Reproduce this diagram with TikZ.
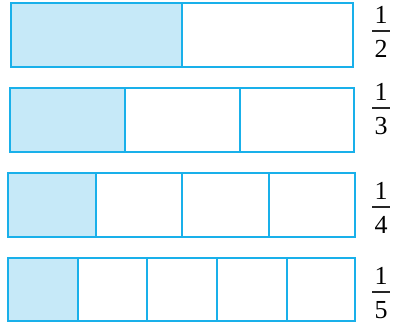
\documentclass[tikz,border=0pt]{standalone}
\usepackage{fontspec}
\setmainfont{Liberation Serif}
\newcommand\bigdigit[1]{{\fontsize{26}{30}\selectfont #1}}
\definecolor{barline}{HTML}{19B0EA}
\definecolor{barfill}{HTML}{C6E9F8}
\tikzset{
  bar/.style={draw=barline, line width=2.2pt},
  shade/.style={fill=barfill},
  fracdigit/.style={inner sep=0pt, anchor=base},
  fracrule/.style={line width=1.8pt, draw=black!85}
}
\begin{document}
\begin{tikzpicture}[x=1pt,y=-1pt]
\useasboundingbox (0,0) rectangle (394,331);
% bar 1/2
\fill[shade] (11,3) rectangle (182,67);
\draw[bar] (11,3) rectangle (353,67);
\draw[bar] (182,3) -- (182,67);
% bar 1/3
\fill[shade] (10,88) rectangle (125,152);
\draw[bar] (10,88) rectangle (354,152);
\foreach \x in {125,240} \draw[bar] (\x,88) -- (\x,152);
% bar 1/4
\fill[shade] (8,173) rectangle (96,237);
\draw[bar] (8,173) rectangle (355,237);
\foreach \x in {96,182,269} \draw[bar] (\x,173) -- (\x,237);
% bar 1/5
\fill[shade] (8,258) rectangle (78,321);
\draw[bar] (8,258) rectangle (355,321);
\foreach \x in {78,147,217,287} \draw[bar] (\x,258) -- (\x,321);
% fractions
\foreach \L/\d/\n in {31/2/a,108/3/b,207/4/c,292/5/d}{
  \node[fracdigit] (num\n) at (381,\L-7) {\bigdigit{1}};
  \node[fracdigit] (den\n) at (381,\L+27) {\bigdigit{\d}};
  \coordinate (rl\n) at (372,\L);
  \coordinate (rr\n) at (390,\L);
  \draw[fracrule] (rl\n) -- (rr\n);
}
\end{tikzpicture}
\end{document}
